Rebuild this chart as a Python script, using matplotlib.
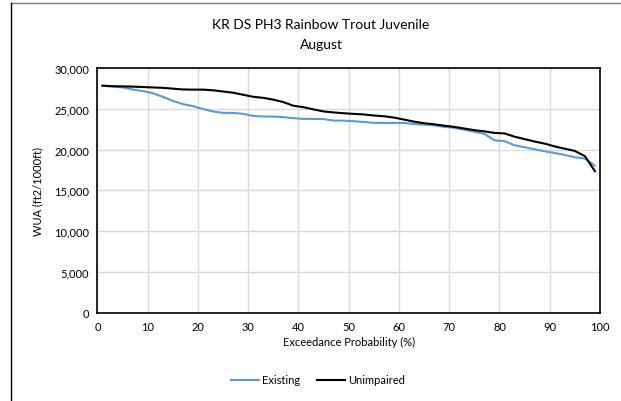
import numpy as np
import matplotlib
matplotlib.use('Agg')
import matplotlib.pyplot as plt
from matplotlib.lines import Line2D

plt.rcParams['font.family'] = ['Lato', 'DejaVu Sans']

# exceedance probability (%)
prob = np.arange(1, 100, 2)

existing = [27850, 27750, 27650, 27400, 27200, 26950, 26500, 26000, 25600, 25350,
            25000, 24700, 24520, 24520, 24400, 24150, 24080, 24070, 24000, 23880,
            23780, 23780, 23760, 23580, 23570, 23500, 23400, 23300, 23290, 23290,
            23290, 23150, 23080, 23000, 22800, 22700, 22450, 22200, 21950, 21150,
            21050, 20550, 20300, 20050, 19800, 19600, 19350, 19070, 18900, 18040]

unimpaired = [27870, 27800, 27780, 27750, 27700, 27650, 27600, 27500, 27400, 27380,
              27380, 27300, 27150, 27000, 26750, 26500, 26370, 26150, 25850, 25400,
              25220, 24950, 24700, 24580, 24480, 24400, 24330, 24200, 24110, 23950,
              23700, 23450, 23250, 23120, 22950, 22800, 22600, 22400, 22250, 22060,
              22000, 21600, 21300, 21000, 20750, 20400, 20120, 19850, 19200, 17350]

fig = plt.figure(figsize=(6.21, 4.02), dpi=100)
ax = fig.add_axes([97.4/621, (402-313.5)/402, (600-97.4)/621, (313.5-69.3)/402])

ax.plot(prob, existing, color='#5b9bd5', lw=1.5, label='Existing')
ax.plot(prob, unimpaired, color='black', lw=1.5, label='Unimpaired')

ax.set_xlim(0, 100)
ax.set_ylim(0, 30000)
ax.set_xticks(np.arange(0, 101, 10))
ax.set_yticks(np.arange(0, 30001, 5000))
ax.set_yticklabels([f'{v:,}' for v in range(0, 30001, 5000)])
ax.grid(True, color='#d9d9d9', lw=1)
ax.set_axisbelow(True)
ax.tick_params(length=0, labelsize=8, pad=6)
for s in ax.spines.values():
    s.set_color('black')
    s.set_linewidth(1.2)

ax.set_xlabel('Exceedance Probability (%)', fontsize=8, labelpad=3)
ax.set_ylabel('WUA (ft2/1000ft)', fontsize=8, labelpad=8)

fig.text(321/621, 1 - 25/402, 'KR DS PH3 Rainbow Trout Juvenile', ha='center', va='center', fontsize=10)
fig.text(321/621, 1 - 45/402, 'August', ha='center', va='center', fontsize=10)

fig.legend(loc='center', bbox_to_anchor=(318/621, 1 - 381/402), ncol=2, frameon=False,
           fontsize=8, handlelength=2.5, handletextpad=0.3, columnspacing=1.5)

# outer chart frame
fig.add_artist(Line2D([11/621, 1], [1 - 4/402, 1 - 4/402], color='#7f7f7f', lw=1))
fig.add_artist(Line2D([11/621, 11/621], [0, 1 - 4/402], color='black', lw=1))

fig.savefig('out.png', dpi=100)
